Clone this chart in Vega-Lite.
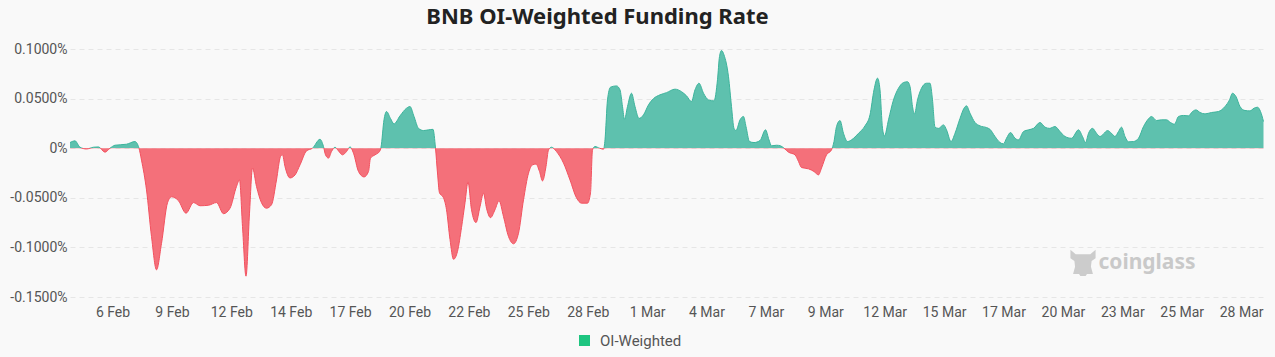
{
  "$schema": "https://vega.github.io/schema/vega-lite/v6.json",
  "autosize": {"type": "none"},
  "width": 1195,
  "height": 248,
  "padding": {"left": 70, "top": 49, "right": 10, "bottom": 60},
  "background": "#f9f9f9",
  "title": {
    "text": "BNB OI-Weighted Funding Rate",
    "anchor": "middle",
    "dx": -70,
    "offset": 13,
    "font": "Noto Sans",
    "fontSize": 22,
    "fontWeight": "bold",
    "color": "#222222"
  },
  "config": {
    "view": {"stroke": null},
    "axis": {"labelFont": "Roboto", "labelFontSize": 14, "labelColor": "#555555", "domain": false, "ticks": false},
    "legend": {"labelFont": "Roboto", "labelFontSize": 15, "labelColor": "#555555"}
  },
  "data": {"values": [
    {"i":0,"v":0.0057},{"i":1,"v":0.0074},{"i":2,"v":0.001},{"i":3.3,"v":-0.0008},{"i":4.7,"v":0.001},{"i":5.7,"v":0.0013},{"i":7,"v":-0.004},{"i":8,"v":0},{"i":9,"v":0.003},{"i":11.3,"v":0.004},{"i":13,"v":0.0067},{"i":13.8,"v":0},{"i":14.3,"v":-0.012},{"i":15.3,"v":-0.042},{"i":16.3,"v":-0.089},{"i":17.3,"v":-0.1226},{"i":18.3,"v":-0.096},{"i":19.5,"v":-0.055},{"i":20.3,"v":-0.049},{"i":21.7,"v":-0.053},{"i":23.2,"v":-0.0655},{"i":24.7,"v":-0.0548},{"i":26,"v":-0.058},{"i":27.7,"v":-0.0575},{"i":29.3,"v":-0.0548},{"i":30.7,"v":-0.066},{"i":32,"v":-0.0605},{"i":33.3,"v":-0.0386},{"i":33.9,"v":-0.032},{"i":34.5,"v":-0.079},{"i":35.2,"v":-0.129},{"i":35.9,"v":-0.0655},{"i":36.5,"v":-0.02},{"i":37.3,"v":-0.0386},{"i":38.3,"v":-0.055},
    {"i":39.3,"v":-0.0605},{"i":40.3,"v":-0.057},{"i":41.3,"v":-0.032},{"i":42.1,"v":-0.0084},{"i":42.5,"v":-0.0067},{"i":43,"v":-0.0185},{"i":44,"v":-0.03},{"i":45,"v":-0.027},{"i":46,"v":-0.0168},{"i":47.3,"v":-0.0027},{"i":48.5,"v":0},{"i":50,"v":0.009},{"i":50.7,"v":0.0017},{"i":51.1,"v":-0.0067},{"i":51.7,"v":-0.01},{"i":52.3,"v":-0.0034},{"i":53,"v":0.001},{"i":53.7,"v":-0.0027},{"i":54.5,"v":-0.0067},{"i":55.3,"v":-0.0034},{"i":56,"v":0.0013},{"i":56.7,"v":-0.005},{"i":57.7,"v":-0.0235},{"i":58.8,"v":-0.029},{"i":59.7,"v":-0.0235},{"i":60.1,"v":-0.01},{"i":61,"v":-0.0067},{"i":61.9,"v":-0.0034},{"i":62.2,"v":0.001},{"i":62.8,"v":0.0286},{"i":63.3,"v":0.037},{"i":64.1,"v":0.03},{"i":64.8,"v":0.0245},{"i":66,"v":0.0326},{"i":67.3,"v":0.0403},{"i":68,"v":0.042},{"i":68.8,"v":0.032},{"i":69.7,"v":0.02},{"i":70.7,"v":0.0178},{"i":71.7,"v":0.0185},{"i":72.6,"v":0.019},{"i":73.1,"v":0},{"i":73.5,"v":-0.025},{"i":73.9,"v":-0.045},{"i":74.7,"v":-0.05},{"i":75.3,"v":-0.062},{"i":76,"v":-0.092},{"i":76.7,"v":-0.112},{"i":77.5,"v":-0.104},{"i":78.3,"v":-0.08},{"i":79,"v":-0.055},{"i":79.6,"v":-0.034},
    {"i":80.3,"v":-0.062},{"i":81.2,"v":-0.075},{"i":82,"v":-0.059},{"i":82.7,"v":-0.0454},{"i":83.3,"v":-0.0605},{"i":84.1,"v":-0.07},{"i":85,"v":-0.062},{"i":85.8,"v":-0.053},{"i":86.7,"v":-0.069},{"i":87.7,"v":-0.089},{"i":88.7,"v":-0.0964},{"i":89.7,"v":-0.0857},{"i":90.7,"v":-0.052},{"i":91.7,"v":-0.0252},{"i":92.5,"v":-0.0168},{"i":93.2,"v":-0.016},{"i":93.9,"v":-0.0235},{"i":94.5,"v":-0.033},{"i":95.2,"v":-0.0185},{"i":95.7,"v":-0.0017},{"i":96.3,"v":0.001},{"i":97.3,"v":-0.0034},{"i":98.7,"v":-0.015},{"i":100,"v":-0.032},{"i":101.3,"v":-0.05},{"i":102.3,"v":-0.0554},{"i":103.5,"v":-0.0554},{"i":104.1,"v":-0.045},{"i":104.5,"v":-0.0017},{"i":105,"v":0.0017},{"i":105.9,"v":0},{"i":106.7,"v":-0.001},{"i":107,"v":0.0084},{"i":107.5,"v":0.0487},{"i":108.1,"v":0.0615},{"i":109.3,"v":0.0628},{"i":110,"v":0.0588},{"i":110.5,"v":0.042},{"i":110.9,"v":0.0292},{"i":111.5,"v":0.042},{"i":112.3,"v":0.0554},{"i":113,"v":0.042},{"i":113.8,"v":0.03},{"i":114.7,"v":0.0336},{"i":115.7,"v":0.0437},{"i":116.7,"v":0.05},{"i":118,"v":0.0538},{"i":119.3,"v":0.056},
    {"i":121,"v":0.0595},{"i":122.3,"v":0.057},{"i":123.3,"v":0.0528},{"i":124.3,"v":0.047},{"i":125,"v":0.0588},{"i":125.8,"v":0.0655},{"i":126.7,"v":0.0554},{"i":127.7,"v":0.0487},{"i":128.8,"v":0.0477},{"i":129.5,"v":0.069},{"i":129.9,"v":0.0924},{"i":130.3,"v":0.0985},{"i":130.8,"v":0.094},{"i":131.7,"v":0.072},{"i":132.3,"v":0.042},{"i":132.8,"v":0.02},{"i":133.2,"v":0.0178},{"i":134,"v":0.0286},{"i":134.7,"v":0.032},{"i":135.2,"v":0.0218},{"i":135.9,"v":0.0067},{"i":136.8,"v":0.0057},{"i":138,"v":0.0077},{"i":139.1,"v":0.0185},{"i":139.8,"v":0.0084},{"i":140.3,"v":0.0024},{"i":141.3,"v":0.003},{"i":142.1,"v":0.0024},{"i":142.8,"v":0},{"i":143.7,"v":-0.004},{"i":145,"v":-0.0067},{"i":145.7,"v":-0.0134},{"i":146.3,"v":-0.0195},{"i":147.7,"v":-0.0208},{"i":148.8,"v":-0.0235},{"i":149.7,"v":-0.0269},{"i":150.3,"v":-0.02},{"i":151.3,"v":-0.0067},{"i":152.3,"v":-0.0017},{"i":152.8,"v":0.0067},{"i":153.3,"v":0.0218},{"i":154,"v":0.0279},{"i":154.7,"v":0.015},{"i":155.5,"v":0.0067},{"i":156.3,"v":0.0084},{"i":157.7,"v":0.015},
    {"i":159,"v":0.0225},{"i":160,"v":0.0336},{"i":160.8,"v":0.0588},{"i":161.5,"v":0.0706},{"i":162,"v":0.0588},{"i":162.5,"v":0.02},{"i":162.9,"v":0.0124},{"i":163.7,"v":0.0286},{"i":164.7,"v":0.0487},{"i":165.7,"v":0.0605},{"i":166.7,"v":0.0662},{"i":167.5,"v":0.067},{"i":168,"v":0.0622},{"i":168.5,"v":0.042},{"i":168.9,"v":0.0346},{"i":169.5,"v":0.0487},{"i":170.3,"v":0.0605},{"i":171.3,"v":0.0655},{"i":172,"v":0.0655},{"i":172.5,"v":0.0487},{"i":173,"v":0.0212},{"i":173.7,"v":0.02},{"i":174.7,"v":0.0235},{"i":175.3,"v":0.0185},{"i":176.2,"v":0.0067},{"i":177,"v":0.015},{"i":178,"v":0.03},{"i":178.8,"v":0.0403},{"i":179.3,"v":0.0427},{"i":180,"v":0.0353},{"i":181,"v":0.0259},{"i":182,"v":0.0225},{"i":183.3,"v":0.0208},{"i":184,"v":0.019},{"i":185,"v":0.0118},{"i":186,"v":0.0057},{"i":186.7,"v":0.0044},{"i":187.3,"v":0.01},{"i":188.1,"v":0.0158},{"i":189,"v":0.01},{"i":189.7,"v":0.0084},{"i":190.7,"v":0.0168},{"i":191.7,"v":0.0185},{"i":192.7,"v":0.02},{"i":194,"v":0.0259},{"i":195,"v":0.0212},{"i":195.9,"v":0.02},{"i":197,"v":0.0218},{"i":198,"v":0.0168},
    {"i":199,"v":0.0118},{"i":200.3,"v":0.01},{"i":201.7,"v":0.0185},{"i":202.5,"v":0.0118},{"i":203.1,"v":0.0057},{"i":203.7,"v":0.015},{"i":204.5,"v":0.02},{"i":205.3,"v":0.015},{"i":206,"v":0.0118},{"i":206.7,"v":0.0144},{"i":207.5,"v":0.0178},{"i":208.3,"v":0.015},{"i":209,"v":0.0118},{"i":209.7,"v":0.0168},{"i":210.3,"v":0.0212},{"i":211,"v":0.0118},{"i":211.7,"v":0.0064},{"i":212.7,"v":0.0067},{"i":213.7,"v":0.01},{"i":214.7,"v":0.0218},{"i":215.7,"v":0.0296},{"i":216.3,"v":0.032},{"i":217.3,"v":0.0279},{"i":218.3,"v":0.0286},{"i":219.3,"v":0.0286},{"i":220.1,"v":0.0259},{"i":220.9,"v":0.0242},{"i":221.7,"v":0.032},{"i":222.7,"v":0.033},{"i":223.7,"v":0.0326},{"i":224.5,"v":0.037},{"i":225.2,"v":0.0386},{"i":226,"v":0.036},{"i":227,"v":0.0346},{"i":228.3,"v":0.036},{"i":229.7,"v":0.037},{"i":231,"v":0.042},{"i":231.9,"v":0.0487},{"i":232.5,"v":0.0554},{"i":233.2,"v":0.052},{"i":234,"v":0.042},{"i":235,"v":0.038},{"i":236,"v":0.0376},{"i":236.8,"v":0.0403},{"i":237.5,"v":0.0413},{"i":238.1,"v":0.037},{"i":238.7,"v":0.0269}
  ]},
  "layer": [
    {
      "mark": {
        "type": "area", "interpolate": "monotone",
        "fill": {"gradient": "linear", "x1": 0, "y1": 0, "x2": 0, "y2": 1,
          "stops": [{"offset": 0, "color": "#5ec1ae"}, {"offset": 0.433, "color": "#5ec1ae"}, {"offset": 0.433, "color": "#f4707a"}, {"offset": 1, "color": "#f4707a"}]},
        "fillOpacity": 1
      },
      "encoding": {
        "x": {
          "field": "i", "type": "quantitative",
          "scale": {"domain": [0, 239], "nice": false, "zero": false},
          "axis": {
            "title": null, "grid": false,
            "values": [8.5,20.38,32.26,44.14,56.02,67.9,79.78,91.66,103.54,115.42,127.3,139.18,151.06,162.94,174.82,186.7,198.58,210.46,222.34,234.22],
            "labelExpr": "['6 Feb','9 Feb','12 Feb','14 Feb','17 Feb','20 Feb','22 Feb','25 Feb','28 Feb','1 Mar','4 Mar','7 Mar','9 Mar','12 Mar','15 Mar','17 Mar','20 Mar','23 Mar','25 Mar','28 Mar'][round((datum.value + 3.38) / 11.88) - 1]",
            "labelPadding": 8, "labelOverlap": false, "labelFlush": false
          }
        },
        "y": {
          "field": "v", "type": "quantitative",
          "scale": {"domain": [-0.15, 0.1], "nice": false},
          "axis": {
            "title": null,
            "values": [-0.15, -0.1, -0.05, 0, 0.05, 0.1],
            "labelExpr": "datum.value == 0 ? '0%' : (datum.value < 0 ? '-' : '') + format(abs(datum.value), '.4f') + '%'",
            "labelPadding": 3,
            "grid": true, "gridColor": "#e6e6e6", "gridDash": [5, 4], "gridWidth": 1
          }
        }
      }
    },
    {
      "mark": {
        "type": "line", "interpolate": "monotone", "strokeWidth": 1,
        "stroke": {"gradient": "linear", "x1": 0, "y1": 0, "x2": 0, "y2": 1,
          "stops": [{"offset": 0, "color": "#3cb39b"}, {"offset": 0.433, "color": "#3cb39b"}, {"offset": 0.433, "color": "#f2505e"}, {"offset": 1, "color": "#f2505e"}]}
      },
      "encoding": {
        "x": {"field": "i", "type": "quantitative"},
        "y": {"field": "v", "type": "quantitative"}
      }
    },
    {
      "data": {"values": [{"label": "coinglass"}]},
      "mark": {"type": "text", "font": "Noto Sans", "fontSize": 21, "fontWeight": "bold", "color": "#c9c9c9", "align": "center", "baseline": "middle"},
      "encoding": {
        "x": {"datum": 215.4, "type": "quantitative"},
        "y": {"datum": -0.1156, "type": "quantitative"},
        "text": {"field": "label", "type": "nominal"}
      }
    },
    {
      "data": {"values": [{"label": "logo"}]},
      "mark": {"type": "point", "filled": true, "opacity": 1, "color": "#cccccc", "size": 700,
        "shape": "M-0.95,-1 L-0.55,-0.65 L0.55,-0.65 L0.95,-1 L0.95,-0.35 L0.65,-0.15 L0.6,0.3 L0.75,0.85 L0.3,0.85 L0.2,1 L-0.2,1 L-0.3,0.85 L-0.75,0.85 L-0.6,0.3 L-0.65,-0.15 L-0.95,-0.35 Z"},
      "encoding": {
        "x": {"datum": 202.6, "type": "quantitative"},
        "y": {"datum": -0.1156, "type": "quantitative"}
      }
    },
    {
      "data": {"values": [{"label": "OI-Weighted"}]},
      "mark": {"type": "point", "filled": true, "opacity": 0, "shape": "square"},
      "encoding": {
        "x": {"datum": 0, "type": "quantitative"},
        "y": {"datum": 0, "type": "quantitative"},
        "fill": {"field": "label", "type": "nominal", "scale": {"range": ["#1ec580"]},
          "legend": {"title": null, "orient": "none", "legendX": 507, "legendY": 284, "symbolType": "square", "symbolSize": 121, "symbolOpacity": 1, "symbolStrokeWidth": 0, "labelOffset": 8, "padding": 0}}
      }
    }
  ]
}
